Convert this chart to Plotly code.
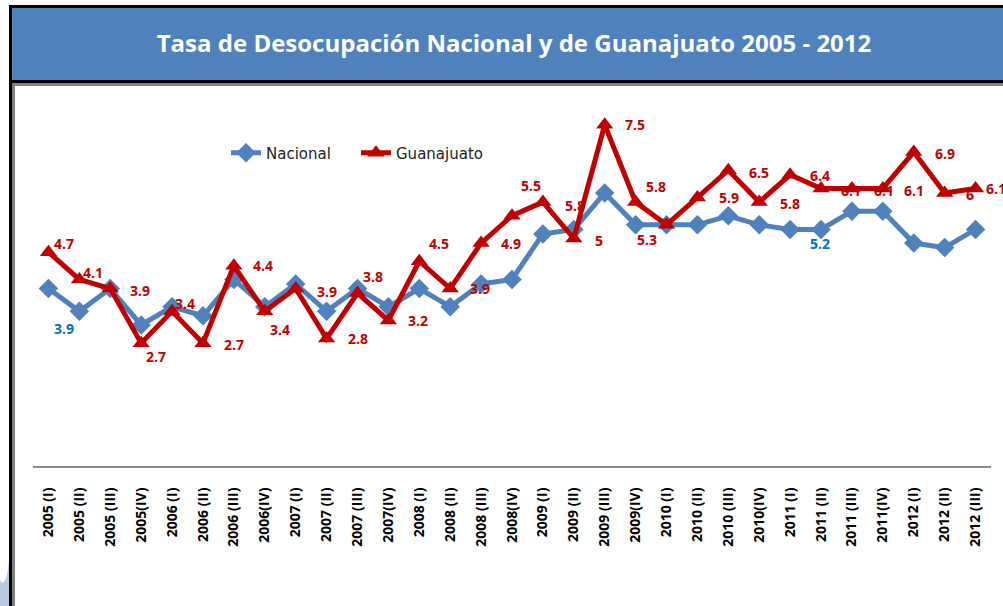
import plotly.graph_objects as go

# ---------------- data ----------------
periods = ["2005 (I)", "2005 (II)", "2005 (III)", "2005(IV)",
           "2006 (I)", "2006 (II)", "2006 (III)", "2006(IV)",
           "2007 (I)", "2007 (II)", "2007 (III)", "2007(IV)",
           "2008 (I)", "2008 (II)", "2008 (III)", "2008(IV)",
           "2009 (I)", "2009 (II)", "2009 (III)", "2009(IV)",
           "2010 (I)", "2010 (II)", "2010 (III)", "2010(IV)",
           "2011 (I)", "2011 (II)", "2011 (III)", "2011(IV)",
           "2012 (I)", "2012 (II)", "2012 (III)"]

nacional = [3.9, 3.4, 3.9, 3.1, 3.5, 3.3, 4.1, 3.5, 4.0, 3.4, 3.9, 3.5,
            3.9, 3.5, 4.0, 4.1, 5.1, 5.2, 6.0, 5.3, 5.3, 5.3, 5.5, 5.3,
            5.2, 5.2, 5.6, 5.6, 4.9, 4.8, 5.2]

guanajuato = [4.7, 4.1, 3.9, 2.7, 3.4, 2.7, 4.4, 3.4, 3.9, 2.8, 3.8, 3.2,
              4.5, 3.9, 4.9, 5.5, 5.8, 5.0, 7.5, 5.8, 5.3, 5.9, 6.5, 5.8,
              6.4, 6.1, 6.1, 6.1, 6.9, 6.0, 6.1]

# which Nacional points carry a visible label
nacional_labeled = [0, 24]

# ---------------- label placement (pixel offsets: right, down) ----------------
g_offsets = [(4, -9), (2, -7), (18, 2), (3, 13), (1, -8), (19, 1), (17, 0), (3, 18),
             (19, 3), (19, 0), (4, -17), (18, 0), (8, -18), (18, 0), (18, 0), (7, -30),
             (20, 3), (19, 2), (18, 0), (8, -16), (-32, 15), (20, 0), (19, 2), (19, 1),
             (18, 1), (18, 2), (20, 2), (19, 2), (19, 1), (19, 1), (8, 0)]
n_offsets = {0: (4, 40), 24: (18, 14)}

W, H = 1003, 606
L, R, T, B = 33, 12, 102, 140
PW, PH = W - L - R, H - T - B

BLUE = "#4F81BD"
RED = "#C00000"
FONT = "Open Sans"


def fmt(v):
    return f"{v:g}"


def px(x):
    return (x - L) / PW


def py(y):
    return (H - B - y) / PH


fig = go.Figure()
fig.add_trace(go.Scatter(
    x=periods, y=nacional, name="Nacional", mode="lines+markers", legend="legend",
    line=dict(color=BLUE, width=5), marker=dict(symbol="diamond", size=15, color=BLUE),
))
fig.add_trace(go.Scatter(
    x=periods, y=guanajuato, name="Guanajuato", mode="lines+markers", legend="legend2",
    line=dict(color=RED, width=5), marker=dict(symbol="triangle-up", size=15, color=RED),
))

annotations = []
for i, v in enumerate(guanajuato):
    dx, dy = g_offsets[i]
    annotations.append(dict(x=periods[i], y=v, text=fmt(v), showarrow=False,
                            xanchor="left", yanchor="middle", xshift=dx, yshift=-dy,
                            font=dict(family=FONT, size=14, color=RED, weight="bold")))
for i in nacional_labeled:
    dx, dy = n_offsets[i]
    annotations.append(dict(x=periods[i], y=nacional[i], text=fmt(nacional[i]), showarrow=False,
                            xanchor="left", yanchor="middle", xshift=dx, yshift=-dy,
                            font=dict(family=FONT, size=14, color="#0070C0", weight="bold")))

shapes = [
    dict(type="rect", xref="paper", yref="paper", x0=px(9), x1=px(1010), y0=py(5), y1=py(620),
         fillcolor="black", line=dict(width=0), layer="below"),
    dict(type="rect", xref="paper", yref="paper", x0=px(12), x1=px(1010), y0=py(8), y1=py(80),
         fillcolor=BLUE, line=dict(width=0), layer="below"),
    dict(type="rect", xref="paper", yref="paper", x0=px(12), x1=px(1010), y0=py(83), y1=py(620),
         fillcolor="#808080", line=dict(width=0), layer="below"),
    dict(type="rect", xref="paper", yref="paper", x0=px(15), x1=px(1010), y0=py(86), y1=py(620),
         fillcolor="white", line=dict(width=0), layer="below"),
    dict(type="path", xref="paper", yref="paper",
         path=f"M {px(0)},{py(580)} Q {px(6)},{py(590)} {px(9)},{py(560)} L {px(9)},{py(606)} L {px(0)},{py(606)} Z",
         fillcolor="#b7cbe2", line=dict(width=0), layer="below"),
]

legend_style = dict(orientation="h", xanchor="left", yanchor="middle", y=py(153),
                    bgcolor="rgba(0,0,0,0)",
                    font=dict(family="DejaVu Sans", size=15, color="#222222"))

fig.update_layout(
    width=W, height=H,
    margin=dict(l=L, r=R, t=T, b=B),
    paper_bgcolor="white", plot_bgcolor="rgba(0,0,0,0)",
    title=dict(text="Tasa de Desocupación Nacional y de Guanajuato 2005 - 2012",
               x=514 / W, y=1 - 44 / H, xref="container", yref="container",
               xanchor="center", yanchor="middle",
               font=dict(family=FONT, size=24, color="white", weight="bold")),
    showlegend=True,
    legend=dict(x=px(226), **legend_style),
    legend2=dict(x=px(356), **legend_style),
    xaxis=dict(type="category", range=[-0.5, len(periods) - 0.5], showline=True,
               linecolor="#8c8c8c", linewidth=2, showgrid=False, zeroline=False,
               ticks="", tickangle=-90, ticklabelstandoff=14,
               tickfont=dict(family=FONT, size=14, color="black", weight="bold")),
    yaxis=dict(range=[0, 8], showticklabels=False, showgrid=False, zeroline=False,
               showline=False, ticks=""),
    annotations=annotations,
    shapes=shapes,
)

fig.write_html("out.html", config={"displayModeBar": False},
               post_script="document.body.style.margin='0';")
